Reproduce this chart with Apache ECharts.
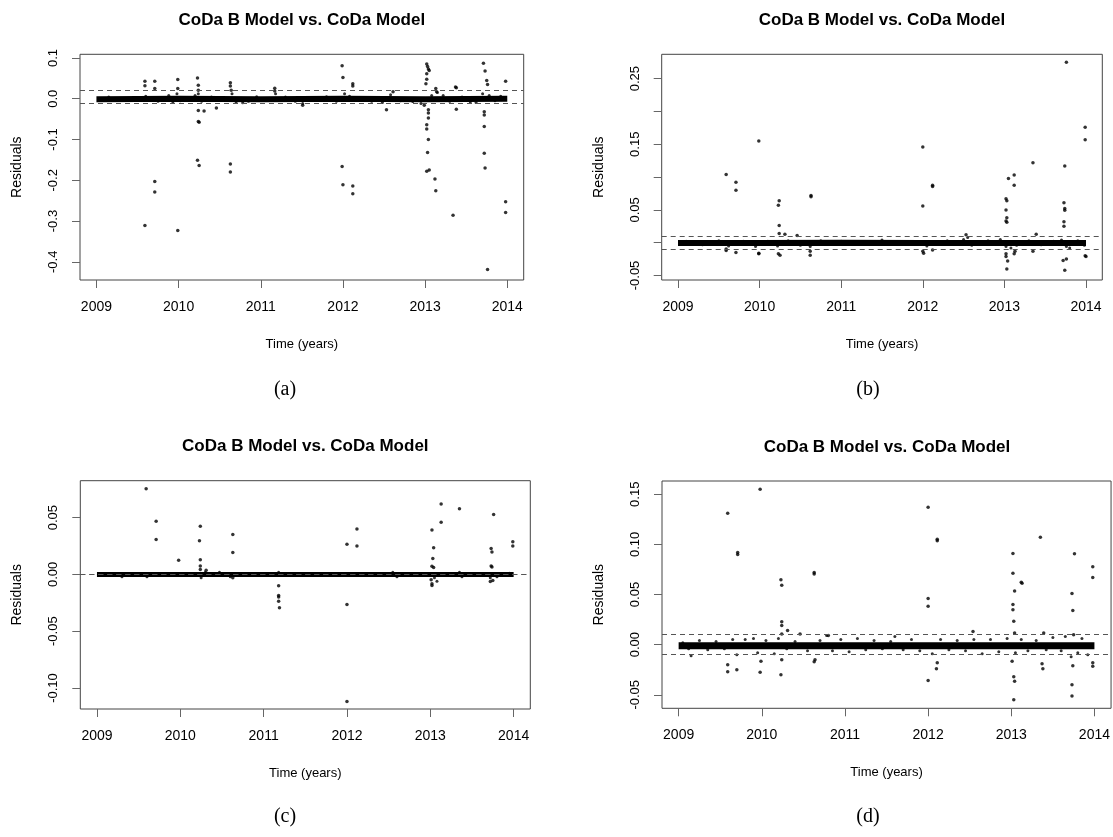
<!DOCTYPE html>
<html lang="en">
<head>
    <meta charset="UTF-8">
    <title>CoDa B Model vs. CoDa Model</title>
    <style type="text/css">
        body {
            margin: 0;
            background: #fff;
        }

        #chart {
            width: 1113px;
            height: 837px;
        }
    </style>
    <script type="text/javascript" src="https://cdn.jsdelivr.net/npm/echarts@6/dist/echarts.min.js"></script>
</head>
<body>
    <div id="chart"></div>
</body>
</html>
<script type="text/javascript">
    // x axis: time in years
    var xTicks = [2009, 2010, 2011, 2012, 2013, 2014];

    // y ticks and labels per panel
    var yTicksA = [-0.4, -0.3, -0.2, -0.1, 0.0, 0.1];
    var yLabelsA = [-0.4, -0.3, -0.2, -0.1, 0.0, 0.1];
    var yTicksB = [-0.05, 0.0, 0.05, 0.10, 0.15, 0.20, 0.25];
    var yLabelsB = [-0.05, 0.05, 0.15, 0.25];
    var yTicksC = [-0.10, -0.05, 0.0, 0.05];
    var yLabelsC = [-0.10, -0.05, 0.0, 0.05];
    var yTicksD = [-0.05, 0.0, 0.05, 0.10, 0.15];
    var yLabelsD = [-0.05, 0.0, 0.05, 0.10, 0.15];

    // dashed reference lines
    var dashA = [0.016, -0.0114];
    var dashB = [0.0066, -0.0051];
    var dashC = [0.0018, -0.0016];
    var dashD = [0.0066, -0.0093];

    // dense band of residuals near zero (centre line)
    var bandA = [[2009.0, -0.001], [2010.0, 0.0], [2011.0, -0.001], [2012.0, 0.0], [2013.0, -0.001], [2014.0, 0.0]];
    var bandB = [[2009.0, -0.0005], [2010.0, -0.0005], [2011.0, 0.0], [2012.0, -0.0005], [2013.0, -0.0005], [2014.0, -0.0005]];
    var bandC = [[2009.0, 0.0], [2010.0, 0.0], [2011.0, 0.0], [2012.0, 0.0], [2013.0, 0.0], [2014.0, 0.0]];
    var bandD = [[2009.0, -0.001], [2010.0, -0.001], [2011.0, -0.001], [2012.0, -0.001], [2013.0, -0.001], [2014.0, -0.001]];

    // scattered points just around the band
    var jitterA = [[2009.05,-0.004],[2009.15,0.004],[2009.3,-0.003],[2009.45,0.003],[2009.6,0.006],[2009.75,-0.006],[2009.88,0.008],[2009.93,-0.008],[2009.98,0.012],[2010.02,-0.005],[2010.2,0.008],[2010.24,0.012],[2010.28,-0.006],[2010.4,0.004],[2010.55,-0.004],[2010.65,0.012],[2010.7,-0.008],[2010.78,-0.01],[2010.85,-0.006],[2010.95,0.005],[2011.05,-0.004],[2011.18,0.012],[2011.3,0.004],[2011.42,-0.006],[2011.51,-0.012],[2011.65,-0.004],[2011.8,0.005],[2011.92,-0.006],[2012.02,0.012],[2012.08,0.006],[2012.2,-0.004],[2012.35,-0.006],[2012.48,-0.009],[2012.58,0.01],[2012.7,-0.005],[2012.85,-0.007],[2012.95,-0.012],[2013.08,0.008],[2013.15,0.015],[2013.22,0.008],[2013.3,-0.006],[2013.45,0.004],[2013.55,-0.008],[2013.62,-0.009],[2013.7,0.012],[2013.78,0.008],[2013.85,-0.005],[2013.92,0.006]];
    var jitterB = [[2009.1,0.002],[2009.3,-0.003],[2009.5,0.003],[2009.62,-0.005],[2009.8,0.002],[2009.95,-0.006],[2010.1,0.002],[2010.22,-0.005],[2010.35,0.003],[2010.5,-0.004],[2010.62,-0.006],[2010.75,0.003],[2011.0,0.002],[2011.3,-0.002],[2011.5,0.004],[2011.8,-0.002],[2012.05,-0.005],[2012.3,0.003],[2012.5,0.005],[2012.55,0.008],[2012.6,-0.004],[2012.8,0.003],[2012.95,0.005],[2013.02,-0.006],[2013.08,-0.008],[2013.15,-0.004],[2013.3,0.003],[2013.45,-0.003],[2013.6,0.002],[2013.7,0.004],[2013.76,-0.006],[2013.8,-0.008],[2013.9,0.003],[2013.98,-0.004]];
    var jitterC = [[2009.3,-0.002],[2009.6,-0.002],[2010.25,-0.003],[2010.3,0.002],[2010.47,0.002],[2010.6,-0.002],[2011.18,0.002],[2012.55,0.002],[2012.6,-0.002],[2013.05,-0.003],[2013.08,-0.006],[2013.35,0.002],[2013.38,-0.002],[2013.72,-0.003],[2013.8,-0.002],[2013.95,0.001]];
    var jitterD = [[2009.05,0.002],[2009.12,-0.004],[2009.15,-0.011],[2009.25,0.004],[2009.35,-0.005],[2009.45,0.003],[2009.55,-0.004],[2009.65,0.005],[2009.7,-0.01],[2009.8,0.005],[2009.9,0.006],[2009.95,-0.008],[2010.05,0.004],[2010.15,-0.009],[2010.2,0.006],[2010.3,-0.004],[2010.4,0.003],[2010.55,-0.006],[2010.7,0.004],[2010.78,0.009],[2010.85,-0.006],[2010.95,0.005],[2011.05,-0.007],[2011.15,0.006],[2011.25,-0.005],[2011.35,0.004],[2011.45,-0.004],[2011.55,0.003],[2011.6,0.008],[2011.7,-0.005],[2011.8,0.005],[2011.9,-0.006],[2012.05,-0.009],[2012.15,0.005],[2012.25,-0.005],[2012.35,0.004],[2012.45,-0.006],[2012.55,0.005],[2012.65,-0.009],[2012.75,0.005],[2012.85,-0.007],[2012.95,0.006],[2013.05,-0.008],[2013.12,0.005],[2013.2,-0.006],[2013.3,0.004],[2013.42,-0.005],[2013.5,0.007],[2013.6,-0.006],[2013.65,0.008],[2013.72,-0.012],[2013.8,-0.008],[2013.85,0.006],[2013.92,-0.01]];

    // outlying residuals
    var outA = [[2009.59,0.043],[2009.59,0.032],[2009.59,-0.311],[2009.71,0.043],[2009.71,0.025],[2009.71,-0.203],[2009.71,-0.229],[2009.99,0.047],[2009.99,0.025],[2009.99,-0.323],[2010.23,0.051],[2010.24,0.033],[2010.24,0.021],[2010.24,-0.029],[2010.24,-0.056],[2010.25,-0.058],[2010.23,-0.151],[2010.25,-0.164],[2010.31,-0.030],[2010.46,-0.023],[2010.63,0.039],[2010.63,0.031],[2010.64,0.021],[2010.63,-0.160],[2010.63,-0.180],[2011.17,0.026],[2011.17,0.019],[2011.51,-0.016],[2011.99,0.081],[2012.0,0.052],[2011.99,-0.166],[2012.0,-0.211],[2012.12,0.037],[2012.12,0.031],[2012.12,-0.214],[2012.12,-0.233],[2012.53,-0.027],[2012.61,0.017],[2012.99,-0.016],[2013.02,0.085],[2013.03,0.079],[2013.04,0.073],[2013.05,0.069],[2013.02,0.061],[2013.02,0.048],[2013.01,0.037],[2013.04,-0.027],[2013.04,-0.035],[2013.04,-0.047],[2013.02,-0.064],[2013.02,-0.074],[2013.04,-0.100],[2013.03,-0.132],[2013.02,-0.178],[2013.05,-0.175],[2013.12,-0.197],[2013.13,-0.226],[2013.13,0.025],[2013.14,0.017],[2013.34,-0.286],[2013.37,0.029],[2013.38,0.027],[2013.38,-0.026],[2013.71,0.087],[2013.73,0.068],[2013.75,0.045],[2013.76,0.035],[2013.72,-0.032],[2013.72,-0.040],[2013.72,-0.068],[2013.72,-0.134],[2013.73,-0.170],[2013.76,-0.419],[2013.98,0.043],[2013.98,-0.253],[2013.98,-0.279]];
    var outB = [[2009.59,0.104],[2009.59,-0.0096],[2009.59,-0.012],[2009.71,0.092],[2009.71,0.080],[2009.71,-0.015],[2009.99,0.155],[2009.99,-0.016],[2009.99,-0.017],[2010.24,0.064],[2010.23,0.057],[2010.24,0.026],[2010.24,0.014],[2010.23,-0.017],[2010.25,-0.019],[2010.31,0.013],[2010.46,0.011],[2010.63,0.072],[2010.63,0.070],[2010.62,-0.013],[2010.62,-0.019],[2012.0,0.146],[2012.0,0.056],[2012.0,-0.013],[2012.01,-0.016],[2012.12,0.0875],[2012.12,0.0855],[2012.12,-0.011],[2012.53,0.012],[2013.02,0.067],[2013.03,0.064],[2013.02,0.050],[2013.03,0.038],[2013.02,0.033],[2013.03,0.031],[2013.02,-0.017],[2013.02,-0.021],[2013.04,-0.028],[2013.03,-0.040],[2013.05,0.098],[2013.12,0.103],[2013.12,0.0875],[2013.13,-0.013],[2013.12,-0.017],[2013.35,0.122],[2013.35,-0.013],[2013.39,0.013],[2013.74,0.117],[2013.73,0.061],[2013.74,0.052],[2013.74,0.0495],[2013.73,0.032],[2013.73,0.025],[2013.76,0.275],[2013.72,-0.027],[2013.76,-0.025],[2013.74,-0.042],[2013.99,0.176],[2013.99,0.157],[2013.99,-0.020],[2014.0,-0.021]];
    var outC = [[2009.59,0.0754],[2009.71,0.0467],[2009.71,0.0308],[2009.98,0.0124],[2010.24,0.0423],[2010.23,0.0296],[2010.24,0.013],[2010.24,0.0074],[2010.24,0.0044],[2010.31,0.0036],[2010.63,0.0352],[2010.63,0.0192],[2010.63,-0.003],[2011.18,-0.010],[2011.18,-0.0186],[2011.18,-0.020],[2011.18,-0.0237],[2011.19,-0.0293],[2012.0,0.0266],[2012.0,-0.0266],[2012.0,-0.112],[2012.12,0.040],[2012.12,0.0249],[2013.02,0.039],[2013.04,0.0234],[2013.03,0.0139],[2013.02,0.0071],[2013.04,0.006],[2013.01,-0.0047],[2013.02,-0.0083],[2013.02,-0.0098],[2013.13,0.062],[2013.13,0.0459],[2013.35,0.0577],[2013.73,0.0074],[2013.74,0.0065],[2013.73,0.0228],[2013.74,0.0198],[2013.76,0.0527],[2013.72,-0.0062],[2013.75,-0.0053],[2013.99,0.0287],[2013.99,0.0251]];
    var outD = [[2009.59,0.131],[2009.71,0.092],[2009.71,0.090],[2009.59,-0.020],[2009.59,-0.027],[2009.70,-0.025],[2009.98,0.155],[2009.98,-0.0275],[2009.99,-0.0166],[2010.23,0.0646],[2010.24,0.0593],[2010.24,0.0228],[2010.24,0.019],[2010.24,0.0106],[2010.23,-0.030],[2010.24,-0.015],[2010.31,0.0142],[2010.46,0.0106],[2010.63,0.072],[2010.63,0.0705],[2010.63,-0.017],[2010.64,-0.015],[2010.8,0.009],[2012.0,0.137],[2012.0,0.046],[2012.0,0.0384],[2012.0,-0.0358],[2012.11,0.105],[2012.11,0.1036],[2012.11,-0.018],[2012.1,-0.024],[2012.54,0.0132],[2013.02,0.091],[2013.02,0.0712],[2013.02,0.040],[2013.02,0.0348],[2013.03,0.0232],[2013.04,0.0116],[2013.01,-0.0166],[2013.03,-0.032],[2013.04,-0.0364],[2013.03,-0.055],[2013.04,0.0536],[2013.12,0.0623],[2013.13,0.0613],[2013.35,0.107],[2013.37,-0.019],[2013.38,-0.024],[2013.39,0.0116],[2013.73,0.051],[2013.74,0.034],[2013.73,-0.040],[2013.73,-0.0513],[2013.74,-0.021],[2013.76,0.0907],[2013.75,0.0099],[2013.98,0.0778],[2013.98,0.0669],[2013.98,-0.0215],[2013.98,-0.018]];

    var titleText = 'CoDa B Model vs. CoDa Model';
    var sans = 'Liberation Sans, Arial, Helvetica, sans-serif';
    var serif = 'Liberation Serif, DejaVu Serif, serif';

    // panel layout (pixels) and y ranges
    var panels = [
        {left: 80, top: 54.3, width: 443.7, height: 225.7, ymin: -0.4447, ymax: 0.109, ticks: yTicksA, labels: yLabelsA, dec: 1, dash: dashA, band: bandA, bw: 6, jitter: jitterA, out: outA, cap: '(a)', capX: 285, capY: 390},
        {left: 661.7, top: 54.3, width: 440.6, height: 225.7, ymin: -0.0569, ymax: 0.2872, ticks: yTicksB, labels: yLabelsB, dec: 2, dash: dashB, band: bandB, bw: 6, jitter: jitterB, out: outB, cap: '(b)', capX: 868, capY: 390},
        {left: 80.3, top: 480.7, width: 450, height: 228.3, ymin: -0.1185, ymax: 0.0825, ticks: yTicksC, labels: yLabelsC, dec: 2, dash: dashC, band: bandC, bw: 5, jitter: jitterC, out: outC, cap: '(c)', capX: 285, capY: 817},
        {left: 662, top: 481, width: 450, height: 227.3, ymin: -0.0635, ymax: 0.1632, ticks: yTicksD, labels: yLabelsD, dec: 2, dash: dashD, band: bandD, bw: 7, jitter: jitterD, out: outD, cap: '(d)', capX: 868, capY: 817}
    ];

    var grid = [], xAxis = [], yAxis = [], series = [], graphic = [];

    for (var i = 0; i < panels.length; i++) {
        var p = panels[i];
        grid.push({
            left: p.left, top: p.top, width: p.width, height: p.height,
            show: true, borderColor: '#444', borderWidth: 1, backgroundColor: 'transparent'
        });
        xAxis.push({
            type: 'value', gridIndex: i, min: 2008.8, max: 2014.2, position: 'bottom',
            name: 'Time (years)', nameLocation: 'middle', nameGap: 58,
            nameTextStyle: {fontFamily: sans, fontSize: 13, color: '#000'},
            axisLine: {show: false, onZero: false},
            splitLine: {show: false},
            axisTick: {show: true, inside: false, customValues: xTicks, length: 8, lineStyle: {color: '#666'}},
            axisLabel: {customValues: xTicks, margin: 20, fontFamily: sans, fontSize: 14, color: '#000',
                formatter: function (v) { return String(Math.round(v)); }}
        });
        yAxis.push({
            type: 'value', gridIndex: i, min: p.ymin, max: p.ymax, position: 'left',
            name: 'Residuals', nameLocation: 'middle', nameGap: 56, nameRotate: 90,
            nameTextStyle: {fontFamily: sans, fontSize: 14, color: '#000'},
            axisLine: {show: false, onZero: false},
            splitLine: {show: false},
            axisTick: {show: true, inside: false, customValues: p.ticks, length: 8, lineStyle: {color: '#666'}},
            axisLabel: {customValues: p.labels, rotate: 90, margin: 20, fontFamily: sans, fontSize: 13, color: '#000',
                formatter: (function (d) { return function (v) { return v.toFixed(d); }; })(p.dec)}
        });
        series.push({
            type: 'line', xAxisIndex: i, yAxisIndex: i, data: p.band,
            showSymbol: false, silent: true,
            lineStyle: {color: '#000', width: p.bw},
            markLine: {
                silent: true, symbol: ['none', 'none'], label: {show: false},
                lineStyle: {type: [5, 4], color: '#555', width: 1},
                data: p.dash.map(function (v) { return {yAxis: v}; })
            }
        });
        series.push({
            type: 'scatter', xAxisIndex: i, yAxisIndex: i, data: p.jitter,
            symbolSize: 3, itemStyle: {color: '#000'}
        });
        series.push({
            type: 'scatter', xAxisIndex: i, yAxisIndex: i, data: p.out,
            symbolSize: 3.5, itemStyle: {color: '#000'}
        });
        graphic.push({
            type: 'text', x: p.left + p.width / 2, y: p.top - 34,
            style: {text: titleText, font: 'bold 17px ' + sans, fill: '#000', textAlign: 'center', textVerticalAlign: 'middle'}
        });
        graphic.push({
            type: 'text', x: p.capX, y: p.capY,
            style: {text: p.cap, font: '20px ' + serif, fill: '#000', textAlign: 'center', textVerticalAlign: 'middle'}
        });
    }

    var chart = echarts.init(document.getElementById('chart'));
    chart.setOption({
        animation: false,
        backgroundColor: '#fff',
        grid: grid,
        xAxis: xAxis,
        yAxis: yAxis,
        series: series,
        graphic: graphic
    });
</script>
